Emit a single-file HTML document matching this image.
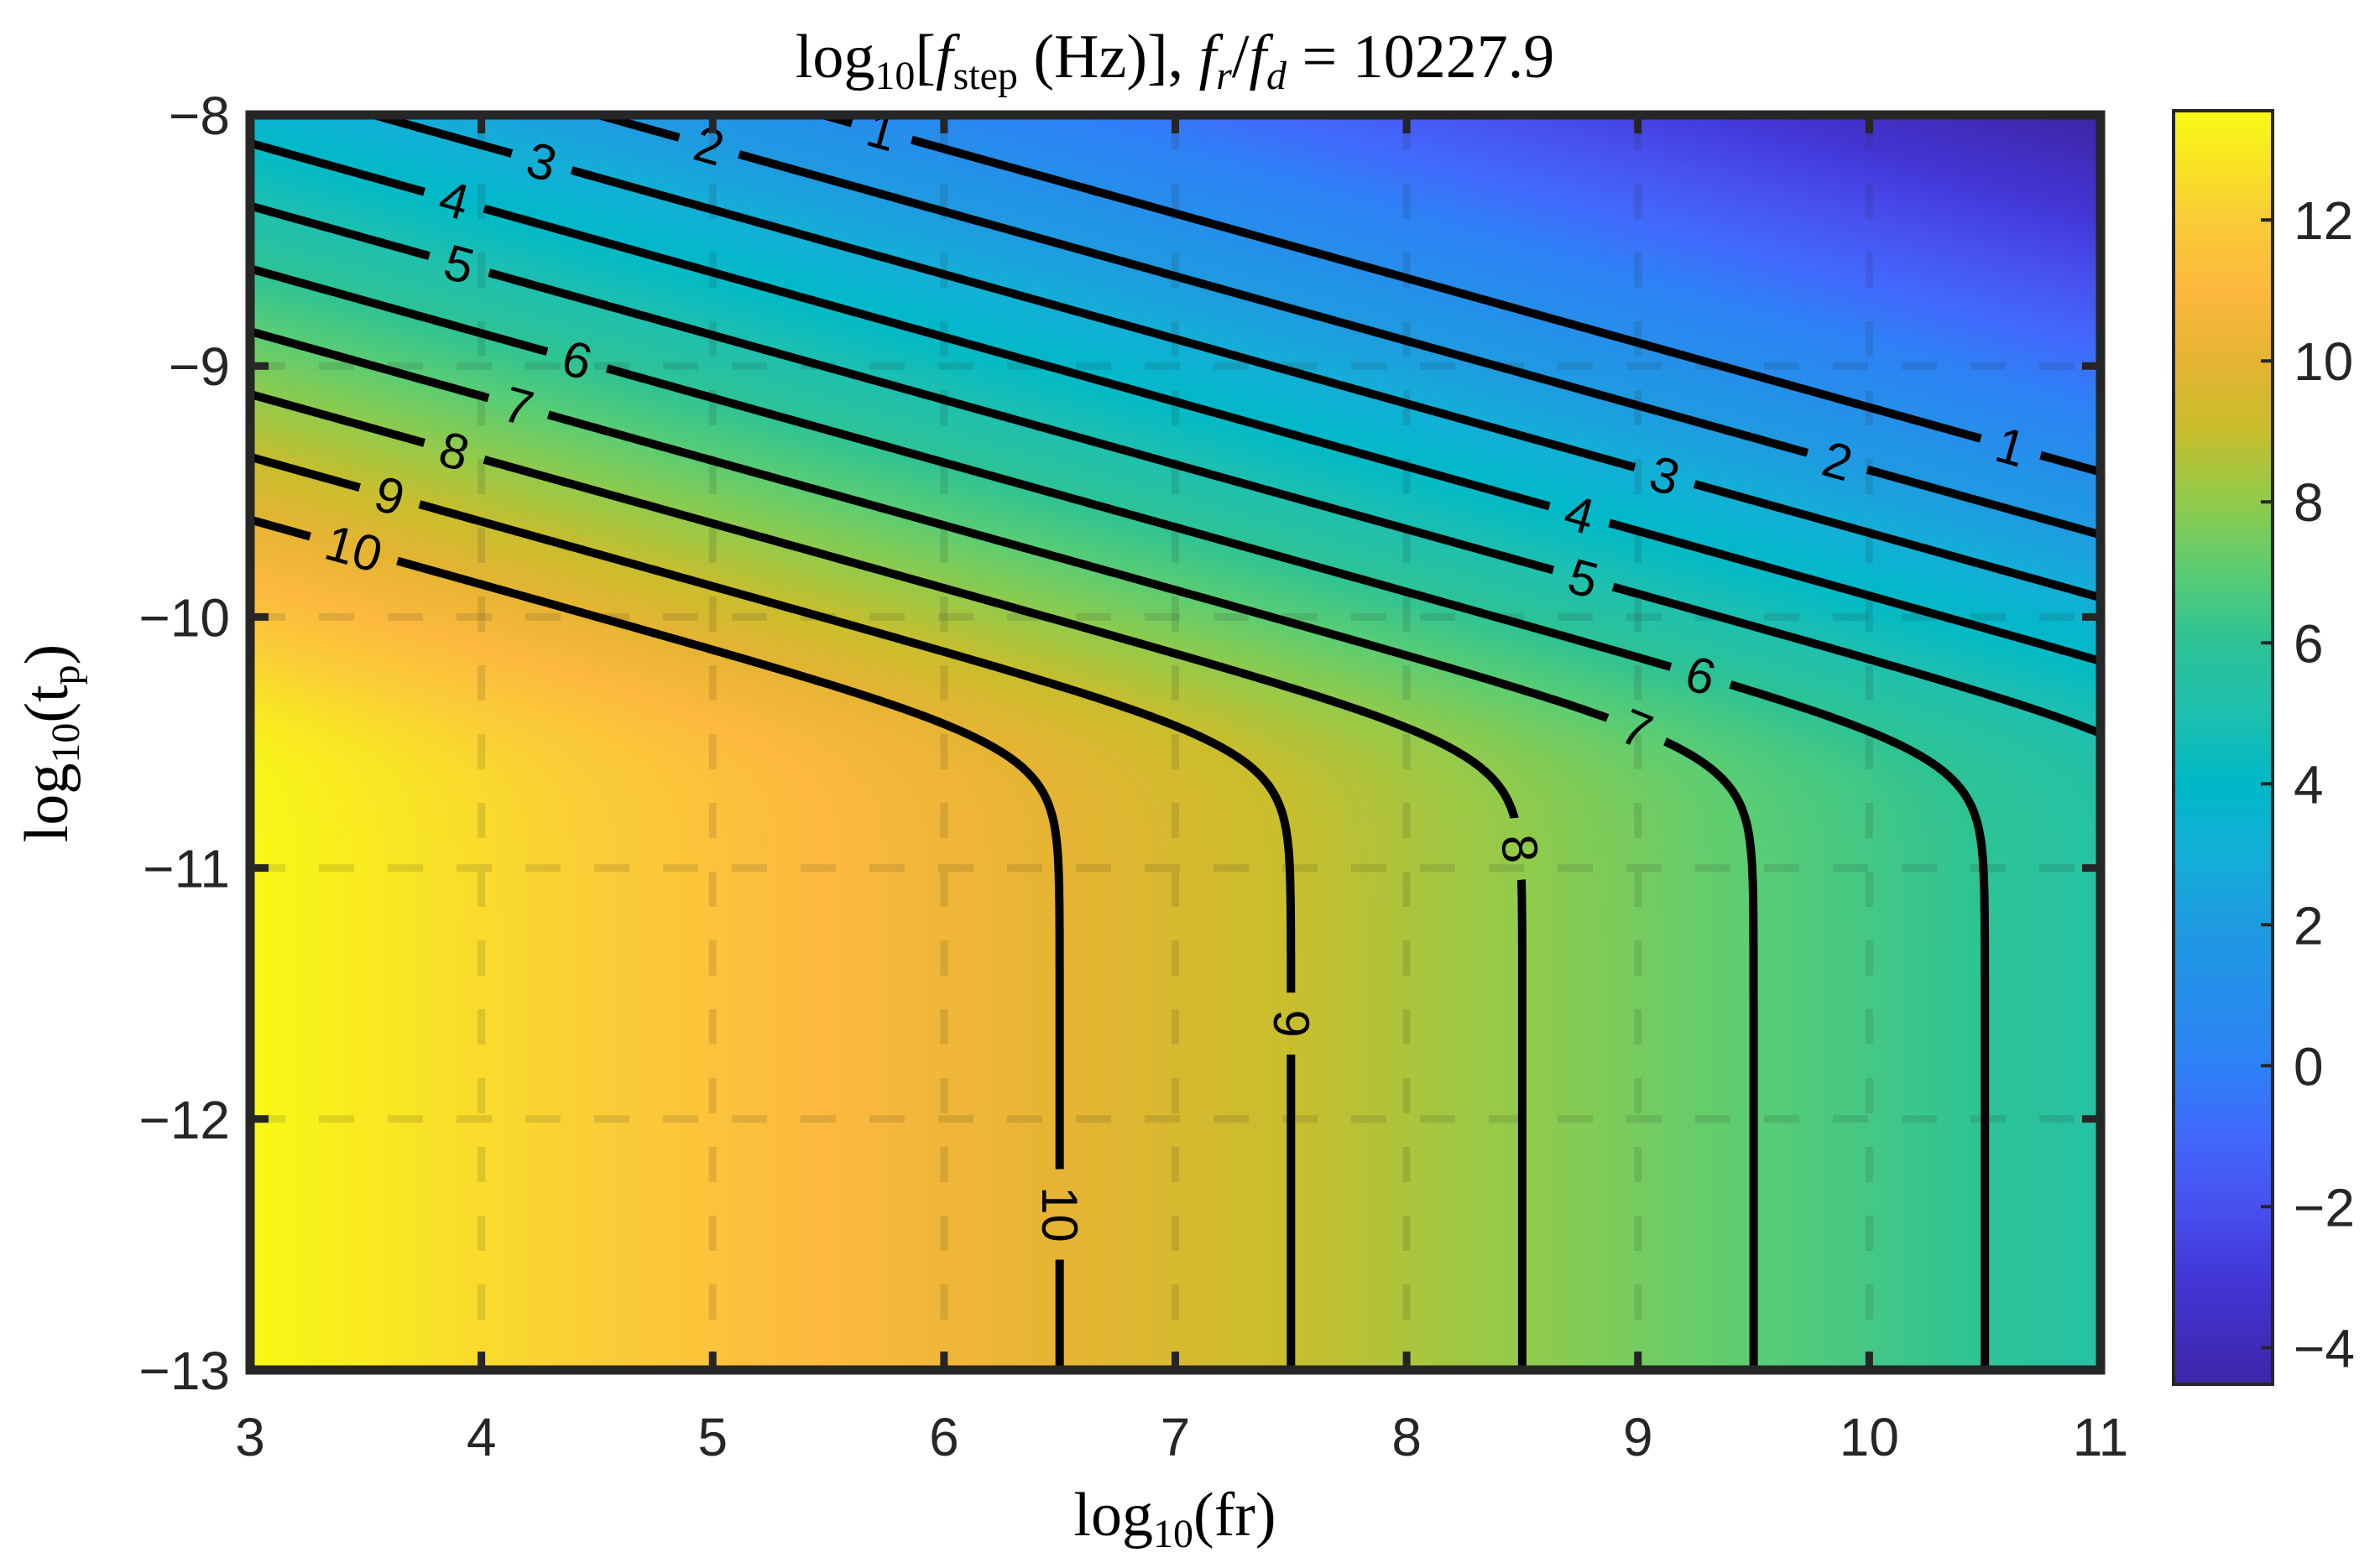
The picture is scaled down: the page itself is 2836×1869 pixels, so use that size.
<!DOCTYPE html>
<html><head><meta charset="utf-8"><style>
html,body{margin:0;padding:0;background:#fff;}
#wrap{position:relative;width:2836px;height:1869px;overflow:hidden;}
canvas{position:absolute;}
svg{position:absolute;left:0;top:0;}
</style></head><body>
<div id="wrap">
<canvas id="heat"></canvas>
<canvas id="cbar"></canvas>
<svg id="svg" width="2836" height="1869" xmlns="http://www.w3.org/2000/svg"></svg>
</div>
<script>
// ---- data ----
const xTicks = [3,4,5,6,7,8,9,10,11];
const yTicks = [-8,-9,-10,-11,-12,-13];
const cbTicks = [12,10,8,6,4,2,0,-2,-4];
const contourLevels = [1,2,3,4,5,6,7,8,9,10];
// field parameters
const verticalIntercept = [16.5];      // lower regime: f = 16.5 - x
const upperCorner = [3.55];            // f at (3,-8) in upper regime
const upperSlopes = [1.03, 4.0];       // df/dx, -df/dy
const colorRange = [-4.52, 13.55];
// contour label positions [level, x, y]
const labelLevels = [1,1,2,2,3,3,4,4,5,5,6,6,7,7,8,8,9,9,10,10];
const labelX = [5.73,10.62,4.98,9.87,4.26,9.12,3.88,8.75,3.90,8.77,4.41,9.28,4.16,9.0,3.88,8.42,3.60,7.47,3.44,6.46];
const labelY = [-8.07,-9.29,-8.14,-9.35,-8.19,-9.42,-8.35,-9.58,-8.61,-9.82,-8.99,-10.2,-9.16,-10.43,-9.35,-10.93,-9.53,-11.62,-9.76,-12.38];
// colormap stops [value, r,g,b]
const cmapVals = [-4.52,-3,-2,-1,0,2,3,4,5,6,7,8,9,10,11,12,13.55];
const cmapCols = [[62,38,168],[67,55,215],[72,80,240],[66,105,252],[45,130,245],[30,155,225],[20,175,215],[0,185,200],[30,192,175],[45,195,150],[90,205,115],[145,203,75],[200,190,45],[230,180,50],[252,185,62],[250,205,55],[248,250,20]];

// ---- axes ----
const X0=298, X1=2503, Y0=137, Y1=1633;
const xs = v => X0 + (v-3)/8*(X1-X0);
const ys = v => Y0 + (-8 - v)/5*(Y1-Y0);
const xinv = p => 3 + (p-X0)/(X1-X0)*8;
const yinv = p => -8 - (p-Y0)/(Y1-Y0)*5;

function field(x,y){
  const F1 = verticalIntercept[0]-x;
  const g = upperCorner[0] - upperSlopes[0]*(x-3) - upperSlopes[1]*(y+8);
  return -Math.log10(Math.pow(10,-F1)+Math.pow(10,-g));
}
function cmap(v){
  if(v<=cmapVals[0]) return cmapCols[0];
  for(let i=1;i<cmapVals.length;i++){
    if(v<=cmapVals[i]){
      const t=(v-cmapVals[i-1])/(cmapVals[i]-cmapVals[i-1]);
      const a=cmapCols[i-1],b=cmapCols[i];
      return [a[0]+(b[0]-a[0])*t,a[1]+(b[1]-a[1])*t,a[2]+(b[2]-a[2])*t];
    }
  }
  return cmapCols[cmapCols.length-1];
}

// heatmap
const hc=document.getElementById('heat');
const W=X1-X0, H=Y1-Y0;
hc.width=W; hc.height=H; hc.style.left=X0+'px'; hc.style.top=Y0+'px';
{
  const ctx=hc.getContext('2d'); const im=ctx.createImageData(W,H);
  for(let j=0;j<H;j++){const y=yinv(Y0+j+0.5);
    for(let i=0;i<W;i++){const c=cmap(field(xinv(X0+i+0.5),y));const k=(j*W+i)*4;
      im.data[k]=c[0];im.data[k+1]=c[1];im.data[k+2]=c[2];im.data[k+3]=255;}}
  ctx.putImageData(im,0,0);
}
// colorbar
const CB={x0:2590,x1:2708,y0:132,y1:1650};
const cbS = v => CB.y1 - (v-colorRange[0])/(colorRange[1]-colorRange[0])*(CB.y1-CB.y0);
const cc=document.getElementById('cbar');
cc.width=CB.x1-CB.x0; cc.height=CB.y1-CB.y0; cc.style.left=CB.x0+'px'; cc.style.top=CB.y0+'px';
{
  const ctx=cc.getContext('2d');
  for(let j=0;j<cc.height;j++){const v=colorRange[1]-(j+0.5)/cc.height*(colorRange[1]-colorRange[0]);
    const c=cmap(v);ctx.fillStyle=`rgb(${c[0]|0},${c[1]|0},${c[2]|0})`;ctx.fillRect(0,j,cc.width,1);}
}

const svg=document.getElementById('svg');
const NS='http://www.w3.org/2000/svg';
function el(tag,attrs,parent){const e=document.createElementNS(NS,tag);for(const k in attrs)e.setAttribute(k,attrs[k]);(parent||svg).appendChild(e);return e;}

// gridlines
const grid=el('g',{});


xTicks.forEach(v=>{const l=el('line',{x1:xs(v),x2:xs(v),y1:Y0,y2:Y1,stroke:'rgba(40,40,40,0.13)','stroke-width':9,'stroke-dasharray':'42 40'},grid);
  
  });
yTicks.forEach(v=>{const l=el('line',{x1:X0,x2:X1,y1:ys(v),y2:ys(v),stroke:'rgba(40,40,40,0.13)','stroke-width':9,'stroke-dasharray':'42 40'},grid);
  
  });

// contours via marching squares
const NX=480, NY=300;
const gv=[];
for(let j=0;j<=NY;j++){const row=[];const y=-8-j/NY*5;for(let i=0;i<=NX;i++)row.push(field(3+i/NX*8,y));gv.push(row);}
const defs=el('defs',{});
const mask=el('mask',{id:'lblmask',maskUnits:'userSpaceOnUse',x:0,y:0,width:2836,height:1869},defs);
el('rect',{x:0,y:0,width:2836,height:1869,fill:'white'},mask);
const cg=el('g',{mask:'url(#lblmask)'});


contourLevels.forEach(L=>{
  let d='';
  const px=(i)=>X0+i/NX*(X1-X0), py=(j)=>Y0+j/NY*(Y1-Y0);
  for(let j=0;j<NY;j++)for(let i=0;i<NX;i++){
    const a=gv[j][i],b=gv[j][i+1],c=gv[j+1][i+1],e=gv[j+1][i];
    const pts=[];
    const edge=(v1,v2,x1,y1,x2,y2)=>{if((v1<L)!==(v2<L)){const t=(L-v1)/(v2-v1);pts.push([x1+(x2-x1)*t,y1+(y2-y1)*t]);}};
    edge(a,b,px(i),py(j),px(i+1),py(j));
    edge(b,c,px(i+1),py(j),px(i+1),py(j+1));
    edge(c,e,px(i+1),py(j+1),px(i),py(j+1));
    edge(e,a,px(i),py(j+1),px(i),py(j));
    for(let k=0;k+1<pts.length;k+=2)d+=`M${pts[k][0].toFixed(1)} ${pts[k][1].toFixed(1)}L${pts[k+1][0].toFixed(1)} ${pts[k+1][1].toFixed(1)}`;
  }
  const p=el('path',{d:d,stroke:'#000','stroke-width':10,fill:'none','stroke-linecap':'round'},cg);
  
  
});

// labels
const lg=el('g',{});


labelLevels.forEach((L,k)=>{
  let x=labelX[k], y=labelY[k];
  for(let it=0;it<20;it++){const h=1e-4;const f=field(x,y);
    const gx=(field(x+h,y)-f)/h, gy=(field(x,y+h)-f)/h; const n=gx*gx+gy*gy; if(n<1e-9)break;
    x+=(L-f)*gx/n; y+=(L-f)*gy/n;}
  const X=xs(x), Y=ys(y);
  const h=1e-4, f=field(x,y);
  const gpx=(field(x+h,y)-f)/h/(xs(1)-xs(0)), gpy=(field(x,y+h)-f)/h/(ys(1)-ys(0));
  let ang=Math.atan2(gpx,-gpy)*180/Math.PI; // tangent
  while(ang>90)ang-=180; while(ang<=-90)ang+=180;
  if(ang<-88)ang=90;
  const tw=(String(L).length*34+40);
  el('rect',{x:-tw/2,y:-38,width:tw,height:76,fill:'black',transform:`translate(${X},${Y}) rotate(${ang})`},mask);
  const t=el('text',{x:0,y:0,transform:`translate(${X},${Y}) rotate(${ang})`,'text-anchor':'middle','dominant-baseline':'central','font-family':'"Liberation Sans",Arial,sans-serif','font-size':60,fill:'#000'},lg);
  t.textContent=L;
  
  
});

// axes box and ticks
const ax=el('g',{});


const AX='#262626';
xTicks.forEach(v=>{
  el('line',{x1:xs(v),x2:xs(v),y1:Y1,y2:Y1-22,stroke:AX,'stroke-width':9},ax);
  el('line',{x1:xs(v),x2:xs(v),y1:Y0,y2:Y0+22,stroke:AX,'stroke-width':9},ax);
  const t=el('text',{x:xs(v),y:1735,'text-anchor':'middle','font-family':'"Liberation Sans",Arial,sans-serif','font-size':64,fill:AX},ax);
  t.textContent=v;
  
  
});
yTicks.forEach(v=>{
  el('line',{x1:X0,x2:X0+22,y1:ys(v),y2:ys(v),stroke:AX,'stroke-width':9},ax);
  el('line',{x1:X1,x2:X1-22,y1:ys(v),y2:ys(v),stroke:AX,'stroke-width':9},ax);
  const t=el('text',{x:274,y:ys(v)+23,'text-anchor':'end','font-family':'"Liberation Sans",Arial,sans-serif','font-size':64,fill:AX},ax);
  t.textContent=(v<0?'\u2212'+(-v):v);
  
  
});
const box=el('rect',{x:X0,y:Y0,width:X1-X0,height:Y1-Y0,fill:'none',stroke:AX,'stroke-width':11},ax);



// colorbar ticks
const cbg=el('g',{});


const cbb=el('rect',{x:CB.x0,y:CB.y0,width:CB.x1-CB.x0,height:CB.y1-CB.y0,fill:'none',stroke:AX,'stroke-width':4},cbg);


cbTicks.forEach(v=>{
  el('line',{x1:CB.x1-14,x2:CB.x1,y1:cbS(v),y2:cbS(v),stroke:AX,'stroke-width':4},cbg);
  const t=el('text',{x:2733,y:cbS(v)+23,'font-family':'"Liberation Sans",Arial,sans-serif','font-size':64,fill:AX},cbg);
  t.textContent=(v<0?'\u2212'+(-v):v);
  
  
});
</script>
<svg width="2836" height="1869" style="position:absolute;left:0;top:0">
<text x="1400" y="92" text-anchor="middle" font-family="'Liberation Serif',serif" font-size="74" fill="#000">log<tspan font-size="48" dy="14">10</tspan><tspan dy="-14">[</tspan><tspan font-style="italic">f</tspan><tspan font-size="48" dy="14">step</tspan><tspan dy="-14"> (Hz)],  </tspan><tspan font-style="italic">f</tspan><tspan font-size="48" font-style="italic" dy="14">r</tspan><tspan dy="-14">/</tspan><tspan font-style="italic">f</tspan><tspan font-size="48" font-style="italic" dy="14">d</tspan><tspan dy="-14"> = 10227.9</tspan></text>
<text x="1400" y="1830" text-anchor="middle" font-family="'Liberation Serif',serif" font-size="74" fill="#000">log<tspan font-size="48" dy="14">10</tspan><tspan dy="-14">(fr)</tspan></text>
<text transform="translate(80,886) rotate(-90)" text-anchor="middle" font-family="'Liberation Serif',serif" font-size="74" fill="#000">log<tspan font-size="48" dy="14">10</tspan><tspan dy="-14">(t</tspan><tspan font-size="48" dy="14">p</tspan><tspan dy="-14">)</tspan></text>
</svg>
</body></html>
